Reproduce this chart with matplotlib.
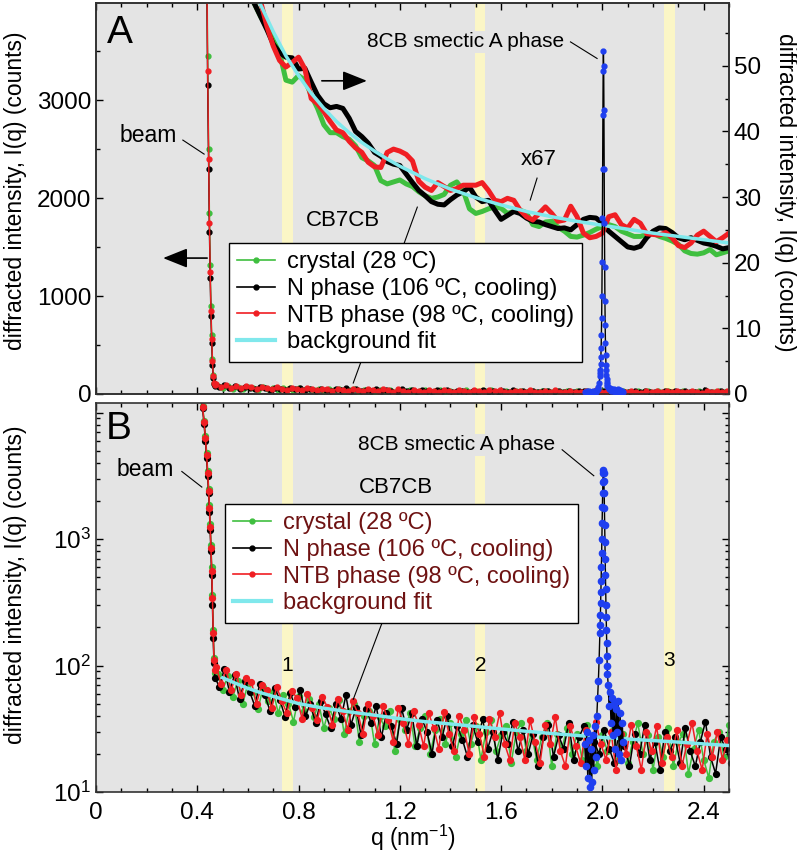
"""
Diffraction I(q) de CB7CB (cristal, N, NTB) et 8CB smectique A.
Panneau A : echelle lineaire + zoom x67 sur l'axe de droite.
Panneau B : meme chose en echelle log.
"""
import numpy as np
import matplotlib
matplotlib.use("Agg")
import matplotlib.pyplot as plt
from matplotlib.lines import Line2D
from matplotlib.ticker import MultipleLocator, LogLocator, NullFormatter

plt.rcParams["font.family"] = ["Liberation Sans", "DejaVu Sans"]
plt.rcParams["mathtext.fontset"] = "custom"
plt.rcParams["mathtext.rm"] = "Liberation Sans"
plt.rcParams["mathtext.it"] = "Liberation Sans:italic"
plt.rcParams["mathtext.bf"] = "Liberation Sans:bold"

# ---------------- donnees ----------------
labels = ["crystal (28 ºC)", "N phase (106 ºC, cooling)",
          "NTB phase (98 ºC, cooling)", "background fit"]

# faisceau direct (counts)
q_beam = [0.414, 0.421, 0.427, 0.432, 0.437, 0.441, 0.445, 0.448,
          0.451, 0.454, 0.457, 0.460, 0.463, 0.466, 0.470]
beam_green = [15500, 11300, 8600, 6500, 4800, 3450, 2500, 1850,
              1320, 900, 600, 360, 190, 115, 88]
beam_black = [14500, 10800, 8100, 6000, 4400, 3150, 2300, 1650,
              1180, 800, 520, 300, 165, 105, 80]
beam_red = [15000, 11000, 8400, 6300, 4600, 3300, 2400, 1750,
            1250, 850, 560, 340, 180, 110, 92]

# signal brut apres le faisceau, pas 0.02 (grilles decalees d'une serie a l'autre)
q_tail_green = np.round(np.arange(0.480, 2.5001, 0.02), 3)
q_tail_black = np.round(np.arange(0.487, 2.5071, 0.02), 3)
q_tail_red = np.round(np.arange(0.474, 2.4941, 0.02), 3)
tail_red = [98, 72, 92, 64, 86, 58, 80, 74, 50, 70,
            64, 46, 68, 52, 42, 63, 55, 38, 60, 46,
            37, 56, 47, 34, 54, 44, 31, 52, 42, 29,
            50, 40, 28, 48, 37, 25, 46, 35, 24, 44,
            34, 23, 42, 32, 22, 43, 29, 21, 40, 31,
            20, 39, 29, 19, 38, 27, 42, 24, 18, 35,
            27, 18, 37, 25, 17, 34, 24, 39, 21, 16,
            33, 23, 17, 31, 21, 36, 24, 18, 30, 15,
            29, 20, 34, 23, 15, 30, 21, 33, 17, 27,
            19, 31, 16, 24, 35, 21, 15, 29, 19, 30,
            18, 26]
tail_black = [68, 94, 62, 84, 54, 76, 62, 48, 72, 58,
              44, 66, 53, 39, 61, 47, 64, 40, 50, 35,
              52, 41, 32, 50, 38, 58, 34, 46, 28, 45,
              35, 48, 27, 42, 33, 24, 46, 31, 42, 23,
              38, 30, 20, 37, 27, 40, 23, 33, 26, 19,
              34, 25, 38, 22, 30, 18, 30, 24, 36, 21,
              31, 20, 29, 16, 27, 34, 19, 28, 22, 35,
              18, 27, 33, 17, 25, 20, 31, 22, 17, 32,
              23, 16, 29, 20, 34, 18, 25, 15, 30, 21,
              27, 17, 32, 21, 16, 25, 36, 19, 14, 27,
              22, 17]
tail_green = [86, 64, 82, 56, 76, 50, 72, 62, 45, 68,
              52, 62, 42, 59, 50, 36, 57, 44, 54, 39,
              50, 32, 46, 38, 53, 29, 44, 50, 25, 40,
              44, 24, 39, 33, 44, 21, 37, 31, 42, 23,
              32, 40, 20, 31, 38, 24, 35, 19, 29, 37,
              24, 33, 18, 30, 37, 21, 28, 33, 17, 30,
              35, 21, 29, 18, 27, 35, 16, 29, 22, 32,
              20, 29, 18, 34, 25, 16, 28, 21, 31, 18,
              29, 17, 25, 35, 20, 28, 15, 27, 19, 32,
              16, 25, 29, 14, 22, 31, 18, 13, 25, 30,
              19, 34]

# courbes lissees agrandies x67 (axe de droite), q = 0.600 .. 2.500 pas 0.025
q_mag = np.round(np.arange(0.600, 2.5001, 0.025), 3)
mag_black = [61.0, 59.5, 57.5, 55.5, 53.3, 52.0, 51.3, 51.2, 49.5, 49.6,
             47.5, 45.5, 44.2, 43.6, 43.8, 43.5, 42.0, 40.0, 39.2, 38.2,
             36.8, 36.2, 35.4, 35.0, 34.8, 33.5, 32.2, 31.0, 30.2, 29.3,
             28.9, 28.8, 29.6, 30.3, 30.8, 31.5, 30.0, 29.3, 29.5, 28.0,
             26.6, 27.2, 27.8, 27.5, 26.8, 26.3, 26.2, 25.8, 25.5, 25.2,
             25.3, 25.0, 25.8, 26.6, 26.9, 26.8, 26.0, 24.8, 24.0, 23.2,
             22.4, 22.2, 22.5, 23.8, 24.8, 25.3, 25.2, 24.6, 23.8, 23.5,
             23.8, 23.4, 23.0, 22.8, 22.5, 22.1, 22.3]
mag_red = [63.0, 61.5, 59.8, 56.0, 53.0, 50.8, 49.8, 50.5, 51.3, 49.5,
           45.0, 44.2, 43.0, 41.5, 40.2, 39.8, 38.5, 37.5, 36.8, 35.3,
           34.6, 34.5, 36.8, 37.3, 37.0, 36.5, 35.5, 32.4, 31.5, 31.0,
           32.2, 31.6, 31.0, 31.3, 31.8, 31.8, 31.8, 32.2, 31.0, 29.5,
           29.3, 29.8, 29.5, 28.0, 27.0, 26.5, 27.5, 28.5, 27.5, 26.3,
           26.5, 28.6, 27.0, 24.5, 23.8, 24.0, 24.5, 27.0, 27.3, 25.8,
           25.3, 26.6, 26.0, 24.4, 24.3, 24.2, 24.6, 23.8, 22.6, 22.3,
           23.0, 24.2, 24.8, 24.0, 23.2, 23.8, 24.5]
mag_green = [61.0, 59.5, 57.5, 55.8, 54.0, 52.0, 47.8, 47.5, 48.5, 47.8,
             45.5, 43.5, 41.0, 39.8, 39.8, 39.2, 38.8, 37.8, 36.0, 35.5,
             34.8, 32.5, 32.0, 32.3, 32.6, 32.0, 31.6, 30.8, 30.2, 29.8,
             30.0, 30.4, 31.8, 32.3, 31.0, 28.2, 27.5, 27.8, 28.2, 28.5,
             28.3, 27.5, 27.8, 28.0, 27.6, 25.8, 25.5, 26.2, 26.3, 25.4,
             24.8, 24.0, 23.9, 24.2, 24.6, 25.1, 25.5, 25.8, 25.5, 24.8,
             24.4, 24.0, 24.0, 24.3, 24.5, 24.0, 23.7, 23.3, 22.8, 21.8,
             21.4, 21.3, 21.5, 22.0, 21.2, 21.5, 21.8]

# ajustement du fond
q_fit_a = [0.62, 0.65, 0.70, 0.75, 0.80, 0.85, 0.90, 0.95, 1.00, 1.05, 1.10, 1.15, 1.20,
           1.30, 1.40, 1.50, 1.60, 1.70, 1.80, 1.90, 2.00, 2.10, 2.20, 2.30, 2.40, 2.50]
fit_a = [62.0, 59.3, 55.2, 51.5, 48.5, 45.8, 43.5, 41.5, 39.8, 38.3, 37.0, 35.8, 34.7,
         32.8, 31.2, 29.9, 28.8, 27.8, 27.0, 26.3, 25.7, 25.1, 24.5, 24.0, 23.5, 23.0]
q_fit_b = [0.50, 0.55, 0.60, 0.65, 0.70, 0.75, 0.80, 0.90, 1.00, 1.10, 1.20, 1.30,
           1.40, 1.50, 1.60, 1.70, 1.80, 1.90, 2.00, 2.10, 2.20, 2.30, 2.40, 2.50]
fit_b = [80, 72.5, 66, 61, 57, 53.3, 50, 46, 43, 40.5, 38, 36,
         34.5, 33, 31.5, 30.2, 29, 28, 27, 26.2, 25.5, 24.8, 24.0, 23.3]

# 8CB smectique A
q_8cb = [1.930, 1.934, 1.938, 1.942, 1.946, 1.950, 1.954, 1.958, 1.962, 1.966, 1.970,
         1.974, 1.978, 1.981, 1.984, 1.987,
         1.990, 1.991, 1.992, 1.993, 1.994, 1.995, 1.996, 1.997, 1.998, 1.999, 2.000,
         2.001, 2.002, 2.003, 2.004, 2.005, 2.006, 2.007, 2.008, 2.009, 2.010, 2.011,
         2.012, 2.013, 2.014, 2.015, 2.016, 2.017, 2.018, 2.019, 2.020,
         2.023, 2.026, 2.030, 2.034, 2.038, 2.042, 2.046, 2.050, 2.054, 2.058, 2.062,
         2.066, 2.070, 2.074, 2.078, 2.082]
I_8cb = [24, 16, 30, 13, 26, 11, 22, 12, 28, 15, 33, 19, 40, 55, 75, 110,
         180, 210, 250, 310, 380, 470, 600, 780, 1000, 1350, 1800, 2300, 2850, 3300,
         3500, 3350, 2900, 2300, 1750, 1300, 950, 700, 520, 400, 300, 240, 190, 150,
         120, 100, 85,
         70, 48, 62, 35, 55, 28, 50, 22, 45, 30, 52, 20, 42, 18, 35, 25]

# bandes jaunes (positions 1, 2, 3)
bands = [(0.736, 0.777), (1.498, 1.538), (2.242, 2.285)]
band_labels = ["1", "2", "3"]

xticks = [0, 0.4, 0.8, 1.2, 1.6, 2.0, 2.4]
xtick_labels = ["0", "0.4", "0.8", "1.2", "1.6", "2.0", "2.4"]
yticks_log = [10, 100, 1000, 10000]
ytick_log_labels = ["$10^{1}$", "$10^{2}$", "$10^{3}$", ""]

# ---------------- style ----------------
BG = "#e4e4e4"
BAND = "#fbf6c6"
GREEN = "#3fbf3f"
BLACK = "#000000"
RED = "#f01e23"
CYAN = "#80e8ec"
BLUE = "#1f3ff0"
MAROON = "#6e1212"
W, H = 797, 858
FS = 16.5
TFS = 17.5
YLABEL = "diffracted intensity, I(q) (counts)"
SCALE = 67.0

fig = plt.figure(figsize=(W / 100, H / 100), dpi=100)
axA = fig.add_axes([96 / W, 1 - 394 / H, 633 / W, 391 / H])
ax2 = axA.twinx()
axB = fig.add_axes([96 / W, 1 - 792 / H, 633 / W, 389 / H])

ax2.set_zorder(1)
axA.set_zorder(2)
axA.patch.set_visible(False)
ax2.patch.set_visible(True)
ax2.patch.set_facecolor(BG)
axB.set_facecolor(BG)

for ax in (ax2, axB):
    for lo, hi in bands:
        ax.axvspan(lo, hi, color=BAND, lw=0, zorder=0)

series = [(GREEN, np.concatenate([q_beam, q_tail_green]), beam_green + tail_green),
          (BLACK, np.concatenate([q_beam, q_tail_black]), beam_black + tail_black),
          (RED, np.concatenate([q_beam, q_tail_red]), beam_red + tail_red)]

# ---- panneau A ----
for col, mag in ((GREEN, mag_green), (BLACK, mag_black), (RED, mag_red)):
    ax2.plot(q_mag, mag, color=col, lw=3.6, zorder=2, solid_joinstyle="round")
ax2.plot(q_fit_a, fit_a, color=CYAN, lw=2.5, zorder=3)

for col, qq, vals in series:
    axA.plot(qq, vals, "-o", color=col, lw=1.0, ms=3.5, mec=col, zorder=2)
axA.plot(q_8cb, I_8cb, "-", color="k", lw=1.0, zorder=3)
axA.plot(q_8cb, I_8cb, "o", color=BLUE, ms=3.5, zorder=3)

axA.set_xlim(0, 2.5)
axA.set_ylim(0, 3990)
ax2.set_ylim(0, 3990 / SCALE)
axA.xaxis.set_major_locator(MultipleLocator(0.4))
axA.xaxis.set_minor_locator(MultipleLocator(0.1))
axA.yaxis.set_major_locator(MultipleLocator(1000))
axA.yaxis.set_minor_locator(MultipleLocator(500))
ax2.yaxis.set_major_locator(MultipleLocator(10))
ax2.yaxis.set_minor_locator(MultipleLocator(5))
axA.tick_params(which="both", direction="in", top=True, bottom=True, left=True,
                right=False, labelbottom=False, labelsize=TFS)
ax2.tick_params(which="both", direction="in", right=True, left=False, labelsize=TFS)
for ax in (axA, ax2):
    ax.tick_params(which="major", length=5, width=1)
    ax.tick_params(which="minor", length=3, width=1)

axA.text(0.095, 3680, "A", fontsize=28, ha="center", va="center")
axA.text(0.205, 2642, "beam", fontsize=16.5, ha="center", va="center")
axA.plot([0.343, 0.427], [2591, 2448], color="k", lw=0.8)
arrow = dict(arrowstyle="-|>,head_length=0.75,head_width=0.3", color="k", lw=1.2,
             mutation_scale=20, shrinkA=0, shrinkB=0)
axA.annotate("", xy=(0.265, 1387), xytext=(0.439, 1387), arrowprops=arrow)
axA.annotate("", xy=(1.07, 3196), xytext=(0.892, 3196), arrowprops=arrow)
axA.text(1.458, 3593, "8CB smectic A phase", fontsize=15, ha="center", va="center",
         bbox=dict(facecolor=BG, edgecolor="none", pad=1))
axA.plot([1.874, 1.979], [3593, 3424], color="k", lw=0.8)
axA.text(1.747, 2397, "x67", fontsize=16, ha="center", va="center")
axA.plot([1.742, 1.715], [2203, 1979], color="k", lw=0.8)
axA.text(0.976, 1775, "CB7CB", fontsize=16, ha="center", va="center")
axA.plot([1.016, 1.269], [112, 1907], color="k", lw=0.8, zorder=2)

handles = [Line2D([], [], color=GREEN, marker="o", ms=3.5, lw=1.2),
           Line2D([], [], color=BLACK, marker="o", ms=3.5, lw=1.2),
           Line2D([], [], color=RED, marker="o", ms=3.5, lw=1.2),
           Line2D([], [], color=CYAN, lw=3)]
leg_kw = dict(loc="upper left", bbox_transform=fig.transFigure, fontsize=17,
              frameon=True, fancybox=False, edgecolor="k", framealpha=1,
              borderaxespad=0, handlelength=1.6, handletextpad=0.5,
              labelspacing=0.2, borderpad=0.35)
legA = axA.legend(handles, labels, bbox_to_anchor=(229 / W, 1 - 243 / H), **leg_kw)
legA.get_frame().set_linewidth(1.0)
legA.set_zorder(10)

# ---- panneau B ----
for col, qq, vals in series:
    axB.plot(qq, vals, "-o", color=col, lw=1.1, ms=4.2, mec=col, zorder=2)
axB.plot(q_fit_b, fit_b, color=CYAN, lw=2.5, zorder=3)
axB.plot(q_8cb, I_8cb, "-", color="k", lw=1.0, zorder=4)
axB.plot(q_8cb, I_8cb, "o", color=BLUE, ms=4.5, zorder=4)

axB.set_yscale("log")
axB.set_xlim(0, 2.5)
axB.set_ylim(10, 11900)
axB.set_xticks(xticks)
axB.set_xticklabels(xtick_labels)
axB.xaxis.set_minor_locator(MultipleLocator(0.1))
axB.set_yticks(yticks_log)
axB.set_yticklabels(ytick_log_labels)
axB.yaxis.set_minor_locator(LogLocator(base=10, subs=np.arange(2, 10)))
axB.yaxis.set_minor_formatter(NullFormatter())
axB.tick_params(which="both", direction="in", top=True, bottom=True, left=True,
                right=True, labelsize=TFS)
axB.tick_params(axis="x", pad=7)
axB.tick_params(which="major", length=5, width=1)
axB.tick_params(which="minor", length=3, width=1)

axB.text(0.091, 7450, "B", fontsize=28, ha="center", va="center")
axB.text(0.194, 3530, "beam", fontsize=16.5, ha="center", va="center")
axB.plot([0.339, 0.418], [3420, 2575], color="k", lw=0.8)
axB.text(1.423, 5560, "8CB smectic A phase", fontsize=15, ha="center", va="center",
         bbox=dict(facecolor=BG, edgecolor="none", pad=1))
axB.plot([1.841, 1.966], [5080, 3165], color="k", lw=0.8)
axB.text(1.186, 2540, "CB7CB", fontsize=16, ha="center", va="center")
axB.plot([1.016, 1.261], [54, 1084], color="k", lw=0.8, zorder=5)
for (lo, hi), lab, yy in zip(bands, band_labels, [100, 100, 110]):
    axB.text((lo + hi) / 2, yy, lab, fontsize=15, ha="center", va="center")

legB = axB.legend(handles, labels, bbox_to_anchor=(225 / W, 1 - 504 / H),
                  labelcolor=MAROON, **leg_kw)
legB.get_frame().set_linewidth(1.0)
legB.set_zorder(10)

for ax in (axA, ax2, axB):
    for sp in ax.spines.values():
        sp.set_linewidth(1.2)
        sp.set_color("#333333")

fig.text(16 / W, 1 - 191 / H, YLABEL, rotation=90, ha="center", va="center", fontsize=FS)
fig.text(16 / W, 1 - 585 / H, YLABEL, rotation=90, ha="center", va="center", fontsize=FS)
fig.text(785 / W, 1 - 192 / H, YLABEL, rotation=270, ha="center", va="center", fontsize=FS)
fig.text(413 / W, 1 - 838 / H, "q (nm$^{-1}$)", ha="center", va="center", fontsize=FS)

fig.savefig("out.png", dpi=100)
plt.close(fig)
